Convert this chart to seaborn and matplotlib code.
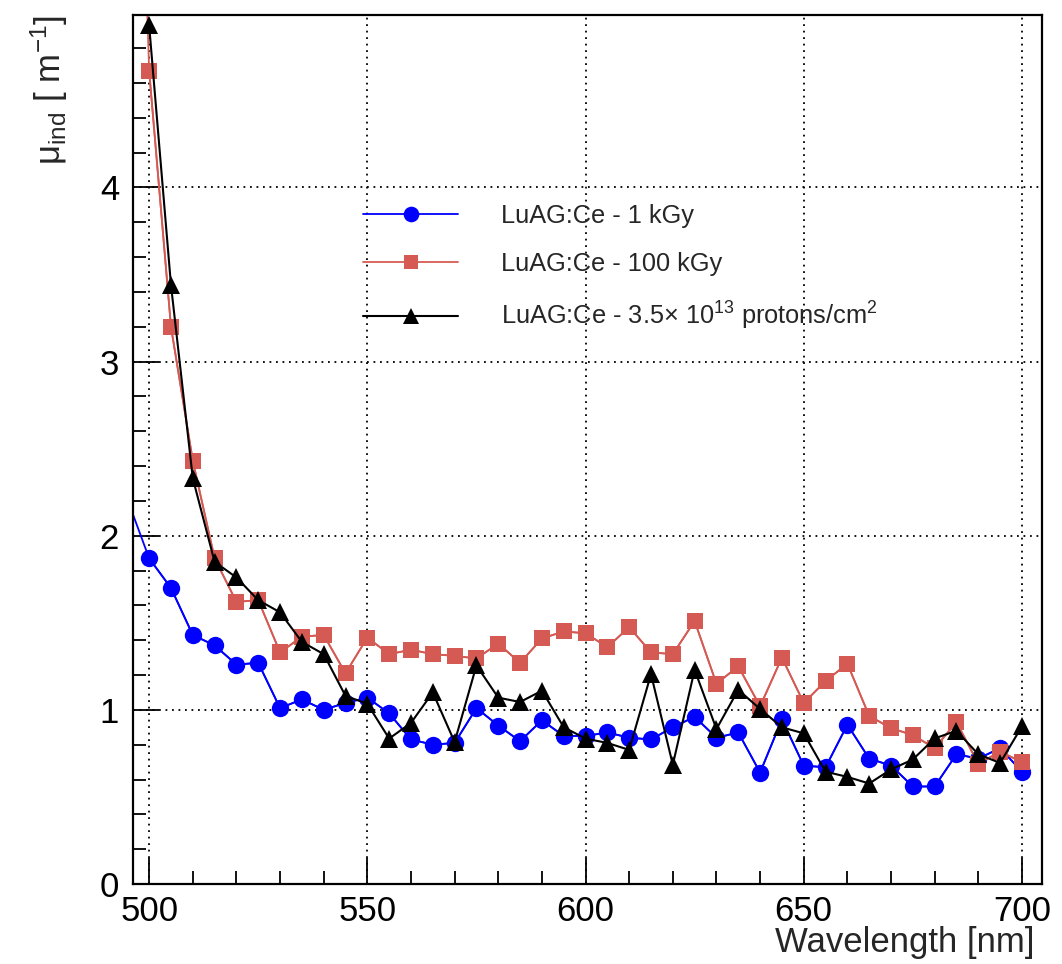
import matplotlib
matplotlib.use("Agg")
import matplotlib.pyplot as plt
from matplotlib.ticker import MultipleLocator
import seaborn as sns
import pandas as pd

# ---------------- data ----------------
wl_all = [495, 500, 505, 510, 515, 520, 525, 530, 535, 540, 545,
          550, 555, 560, 565, 570, 575, 580, 585, 590, 595,
          600, 605, 610, 615, 620, 625, 630, 635, 640, 645,
          650, 655, 660, 665, 670, 675, 680, 685, 690, 695, 700]
wl = wl_all[1:]

mu_1kGy = [1.87, 1.70, 1.43, 1.37, 1.26, 1.27, 1.01, 1.06, 1.00, 1.04,
           1.07, 0.98, 0.83, 0.80, 0.81, 1.01, 0.91, 0.82, 0.94, 0.85,
           0.85, 0.87, 0.84, 0.83, 0.90, 0.96, 0.84, 0.87, 0.64, 0.945,
           0.68, 0.67, 0.915, 0.72, 0.68, 0.56, 0.56, 0.745, 0.72, 0.78,
           0.645]
mu_1kGy_495 = 2.21

mu_100kGy = [4.67, 3.20, 2.43, 1.87, 1.62, 1.63, 1.33, 1.42, 1.43, 1.21,
             1.415, 1.32, 1.345, 1.32, 1.31, 1.295, 1.38, 1.27, 1.41, 1.45,
             1.44, 1.36, 1.475, 1.33, 1.32, 1.51, 1.15, 1.25, 1.02, 1.30,
             1.04, 1.165, 1.265, 0.965, 0.895, 0.855, 0.78, 0.93, 0.69, 0.76,
             0.70]
mu_100kGy_495 = 8.6

mu_protons = [4.93, 3.44, 2.33, 1.85, 1.76, 1.63, 1.56, 1.39, 1.32, 1.08,
              1.035, 0.835, 0.925, 1.10, 0.815, 1.255, 1.07, 1.045, 1.11, 0.90,
              0.835, 0.81, 0.77, 1.205, 0.685, 1.23, 0.89, 1.115, 1.005, 0.90,
              0.865, 0.645, 0.615, 0.577, 0.658, 0.715, 0.836, 0.88, 0.745, 0.695,
              0.905]

labels = ["LuAG:Ce - 1 kGy",
          "LuAG:Ce - 100 kGy",
          "LuAG:Ce - 3.5× 10$^{13}$ protons/cm$^{2}$"]

# ---------------- style ----------------
sns.set_style("white")
plt.rcParams["font.family"] = ["Liberation Sans", "DejaVu Sans"]
plt.rcParams["mathtext.fontset"] = "custom"
plt.rcParams["mathtext.rm"] = "Liberation Sans"
plt.rcParams["mathtext.it"] = "Liberation Sans:italic"
plt.rcParams["mathtext.bf"] = "Liberation Sans:bold"

BLUE = "#0000ff"
RED = "#d55a54"
BLACK = "#000000"

fig = plt.figure(figsize=(10.62, 9.64), dpi=100)
ax = fig.add_axes([133 / 1062, 80 / 964, 909 / 1062, 869 / 964])

# line-only extensions (points outside the frame)
sns.lineplot(x=wl_all, y=[mu_1kGy_495] + mu_1kGy, ax=ax, color=BLUE,
             linewidth=1.3, sort=False, legend=False)
sns.lineplot(x=wl_all, y=[mu_100kGy_495] + mu_100kGy, ax=ax, color=RED,
             linewidth=1.3, sort=False, legend=False)

# series with markers
sns.lineplot(x=wl, y=mu_1kGy, ax=ax, color=BLUE, linewidth=1.3, marker="o",
             markersize=12.5, markeredgewidth=0, sort=False, label=labels[0])
sns.lineplot(x=wl, y=mu_100kGy, ax=ax, color=RED, linewidth=1.3, marker="s",
             markersize=11, markeredgewidth=0, sort=False, label=labels[1])
sns.lineplot(x=wl, y=mu_protons, ax=ax, color=BLACK, linewidth=1.5, marker="^",
             markersize=13.5, markeredgewidth=0, sort=False, label=labels[2])

# ---------------- axes ----------------
ax.set_xlim(496.3, 704.6)
ax.set_ylim(0, 4.99)
ax.xaxis.set_major_locator(MultipleLocator(50))
ax.xaxis.set_minor_locator(MultipleLocator(10))
ax.yaxis.set_major_locator(MultipleLocator(1))
ax.yaxis.set_minor_locator(MultipleLocator(0.2))

ax.tick_params(axis="both", which="both", direction="in", colors="black",
               bottom=True, left=True, top=False, right=False, width=1.3)
ax.tick_params(axis="both", which="major", length=19, labelsize=25)
ax.tick_params(axis="both", which="minor", length=9.5)
ax.tick_params(axis="x", which="major", pad=8)
ax.tick_params(axis="y", which="major", pad=10)

for s in ax.spines.values():
    s.set_color("black")
    s.set_linewidth(1.6)

ax.grid(True, which="major", color="black", linestyle=(0, (1, 2.6)),
        linewidth=1.3)
ax.set_axisbelow(True)

ax.set_xlabel("Wavelength [nm]", fontsize=25, loc="right")
ax.xaxis.set_label_coords(0.992, -0.048)
ax.xaxis.label.set_verticalalignment("top")

ax.set_ylabel("μ$_{\\rm ind}$ [ m$^{-1}$]", fontsize=25, loc="top")
ax.yaxis.set_label_coords(-0.069, 1.0)

leg = ax.legend(loc="center left", bbox_to_anchor=(0.253, 0.709),
                frameon=False, fontsize=18.3, handlelength=3.75,
                handletextpad=1.7, labelspacing=0.95, borderpad=0,
                borderaxespad=0, markerscale=0.9)

fig.savefig("out.png", dpi=100, facecolor="white")
